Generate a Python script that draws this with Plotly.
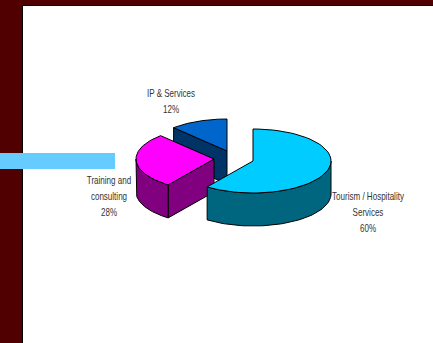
import math
import plotly.graph_objects as go

# Revenue split shown on the slide
categories = ["Tourism / Hospitality Services", "Training and consulting", "IP & Services"]
shares = [60, 28, 12]
label_lines = [["Tourism / Hospitality", "Services", "60%"],
               ["Training and", "consulting", "28%"],
               ["IP & Services", "12%"]]

top_colors = ["#00CCFF", "#FF00FF", "#0066CC"]
side_colors = ["#006680", "#800080", "#003366"]

# Slice apex positions in the exploded layout and the projected ellipse
apexes = [(253, 161), (214, 159), (227, 151)]
RX, RY, DEPTH = 78, 32, 33
label_anchor = [(368, 197), (109, 181), (171, 94)]
LINE_STEP = 16


def rim(cx, cy, a0, a1, drop=0, n=60):
    """Points on the slice rim, clockwise in degrees from twelve o'clock."""
    pts = []
    for i in range(n + 1):
        a = math.radians(a0 + (a1 - a0) * i / n)
        pts.append((cx + RX * math.sin(a), cy - RY * math.cos(a) + drop))
    return pts


def poly(fig, pts, color):
    xs = [p[0] for p in pts] + [pts[0][0]]
    ys = [p[1] for p in pts] + [pts[0][1]]
    fig.add_trace(go.Scatter(x=xs, y=ys, mode="lines", fill="toself", fillcolor=color,
                             line=dict(color="#000000", width=1), hoverinfo="skip",
                             showlegend=False))


# Cumulative angles of each slice
spans = []
start = 0.0
for s in shares:
    end = start + s * 3.6
    spans.append((start, end))
    start = end

fig = go.Figure()

# Painted back to front: IP, training, tourism
for idx in (2, 1, 0):
    cx, cy = apexes[idx]
    a0, a1 = spans[idx]
    ex0 = rim(cx, cy, a0, a0, n=1)[0]
    if idx == 2:
        # Only the cut face along the leading edge shows
        poly(fig, [ex0, (cx, cy), (cx, cy + DEPTH), (ex0[0], ex0[1] + DEPTH)], side_colors[idx])
    if idx == 1:
        # Cut face towards the viewer, then the visible outer wall
        poly(fig, [(cx, cy), ex0, (ex0[0], ex0[1] + DEPTH), (cx, cy + DEPTH)], side_colors[idx])
        upper = rim(cx, cy, a0, 270)
        lower = rim(cx, cy, 270, a0, drop=DEPTH)
        poly(fig, upper + lower, side_colors[idx])
    if idx == 0:
        upper = rim(cx, cy, 90, a1)
        lower = rim(cx, cy, a1, 90, drop=DEPTH)
        poly(fig, upper + lower, side_colors[idx])
    poly(fig, [(cx, cy)] + rim(cx, cy, a0, a1), top_colors[idx])

# Category captions, one text point per line
for lines, (lx, ly) in zip(label_lines, label_anchor):
    fig.add_trace(go.Scatter(
        x=[lx] * len(lines), y=[ly + i * LINE_STEP for i in range(len(lines))],
        mode="text", text=lines, textposition="middle center",
        textfont=dict(family="Liberation Sans", size=11, color="#333333"),
        hoverinfo="skip", showlegend=False, cliponaxis=False))

fig.update_layout(
    width=433, height=343, autosize=False,
    margin=dict(l=0, r=0, t=0, b=0),
    paper_bgcolor="#FFFFFF", plot_bgcolor="#FFFFFF",
    xaxis=dict(range=[0, 433], visible=False, fixedrange=True),
    yaxis=dict(range=[343, 0], visible=False, fixedrange=True),
    shapes=[
        dict(type="rect", xref="x", yref="y", x0=0, x1=433, y0=0, y1=6,
             fillcolor="#500000", line_width=0, layer="below"),
        dict(type="rect", xref="x", yref="y", x0=0, x1=22, y0=0, y1=343,
             fillcolor="#500000", line_width=0, layer="below"),
        dict(type="rect", xref="x", yref="y", x0=22, x1=23, y0=5, y1=343,
             fillcolor="#000000", line_width=0, layer="below"),
        dict(type="rect", xref="x", yref="y", x0=22, x1=433, y0=5, y1=6,
             fillcolor="#000000", line_width=0, layer="below"),
        dict(type="rect", xref="x", yref="y", x0=0, x1=115, y0=153, y1=169,
             fillcolor="#66CCFF", line_width=0, layer="below"),
    ],
)

# Captions are set in a condensed cut: squeeze each line horizontally
condense = """
document.querySelectorAll('.textpoint text').forEach(function (t) {
  t.setAttribute('textLength', t.getComputedTextLength() * 0.73);
  t.setAttribute('lengthAdjust', 'spacingAndGlyphs');
});
"""

fig.write_html("out.html", config={"displayModeBar": False}, post_script=condense)
